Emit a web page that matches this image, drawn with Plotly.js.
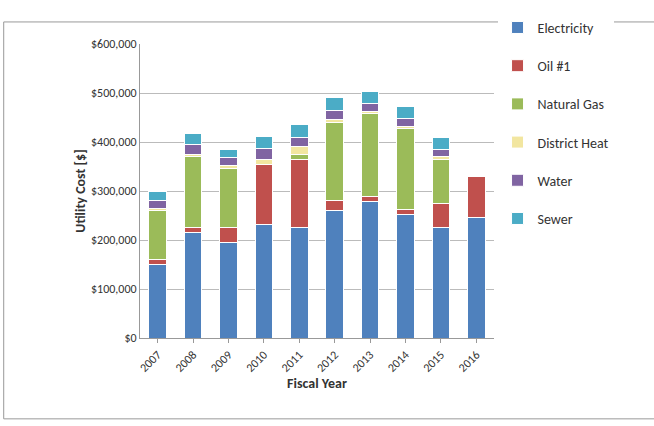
<!DOCTYPE html>
<html><head><script src="https://cdn.plot.ly/plotly-3.0.1.min.js"></script>
<style>body{margin:0}#chart{width:654px;height:426px}</style></head>
<body><div id="chart"></div>
<script>
const years = ['2007','2008','2009','2010','2011','2012','2013','2014','2015','2016'];
const electricity = [150000,215000,195000,232000,225000,260000,278000,252000,225000,245000];
const oil = [10000,10000,30000,123000,140000,20000,10000,10000,50000,85000];
const naturalGas = [100000,145000,120000,0,10000,160000,170000,165000,90000,0];
const districtHeat = [5000,5000,8000,10000,15000,5000,5000,5000,5000,0];
const water = [15000,20000,15000,22000,20000,20000,15000,15000,15000,0];
const sewer = [20000,22000,17000,25000,25000,25000,25000,25000,25000,0];

const series = [
  ['Electricity', electricity, '#4F81BD'],
  ['Oil #1', oil, '#C0504D'],
  ['Natural Gas', naturalGas, '#9BBB59'],
  ['District Heat', districtHeat, '#F2E6A0'],
  ['Water', water, '#8064A2'],
  ['Sewer', sewer, '#4BACC6']
];
const traces = series.map(s => ({
  type: 'bar', name: s[0], x: years, y: s[1], legendgroup: s[0],
  marker: {color: s[2], line: {color: '#ffffff', width: 1}}
}));

Plotly.newPlot('chart', traces, {
  barmode: 'stack', bargap: 0.5,
  width: 654, height: 426,
  margin: {l: 140, r: 160, t: 27, b: 88},
  font: {family: 'Calibri, Carlito, "Liberation Sans", sans-serif', size: 12, color: '#333'},
  paper_bgcolor: '#fff', plot_bgcolor: '#fff',
  xaxis: {type: 'category', title: {text: '<b>Fiscal Year</b>', standoff: 4}, tickangle: -45, showline: true, linecolor: '#999', ticks: 'outside', ticklen: 4, tickcolor: '#999'},
  yaxis: {title: {text: '<b>Utility Cost [$]</b>'}, range: [0, 600000], dtick: 100000, tickformat: '$,.0f',
    gridcolor: '#bbb', showline: true, linecolor: '#999', zeroline: false},
  legend: {x: 1.01, y: 0.73, yanchor: 'middle', traceorder: 'reversed+grouped', tracegroupgap: 17, font: {size: 14}, itemwidth: 20},
  shapes: [{type: 'rect', xref: 'paper', yref: 'paper', x0: -0.385, x1: 1.455, y0: -0.275, y1: 1.075, line: {color: '#999', width: 1}}],
  showlegend: true
}, {displayModeBar: false});
</script></body></html>
